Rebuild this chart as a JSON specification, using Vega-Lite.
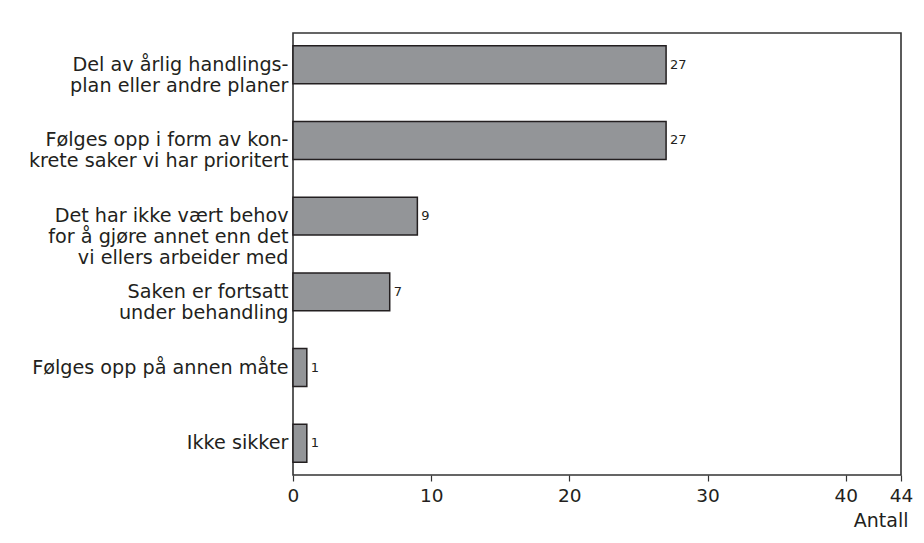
{
  "$schema": "https://vega.github.io/schema/vega-lite/v6.json",
  "autosize": {"type": "none"},
  "width": 608,
  "height": 442,
  "padding": {"left": 293, "top": 33, "right": 23, "bottom": 68},
  "background": "white",
  "data": {
    "values": [
      {"svar": "Del av årlig handlings-|plan eller andre planer", "antall": 27},
      {"svar": "Følges opp i form av kon-|krete saker vi har prioritert", "antall": 27},
      {"svar": "Det har ikke vært behov|for å gjøre annet enn det|vi ellers arbeider med", "antall": 9},
      {"svar": "Saken er fortsatt|under behandling", "antall": 7},
      {"svar": "Følges opp på annen måte", "antall": 1},
      {"svar": "Ikke sikker", "antall": 1}
    ]
  },
  "encoding": {
    "y": {
      "field": "svar",
      "type": "nominal",
      "sort": null,
      "scale": {"paddingInner": 0.5, "paddingOuter": 0.17},
      "axis": {
        "title": null,
        "ticks": false,
        "domain": false,
        "labelExpr": "split(datum.label, '|')",
        "labelFont": "DejaVu Sans",
        "labelFontSize": 19.2,
        "labelLineHeight": 21,
        "labelColor": "#231f20",
        "labelPadding": 5,
        "labelLimit": 300
      }
    },
    "x": {
      "field": "antall",
      "type": "quantitative",
      "scale": {"domain": [0, 44], "nice": false},
      "axis": {
        "title": "Antall",
        "values": [0, 10, 20, 30, 40, 44],
        "grid": false,
        "domain": false,
        "tickColor": "#333333",
        "tickWidth": 1.2,
        "tickSize": 6,
        "labelFont": "DejaVu Sans",
        "labelFontSize": 18.5,
        "labelColor": "#231f20",
        "labelPadding": 5,
        "labelFlush": false,
        "titleFont": "DejaVu Sans",
        "titleFontSize": 19,
        "titleFontWeight": "normal",
        "titleColor": "#231f20",
        "titleAnchor": "end",
        "titleAlign": "right",
        "titleX": 615,
        "titlePadding": 7
      }
    }
  },
  "layer": [
    {
      "mark": {"type": "bar", "fill": "#939598", "stroke": "#231f20", "strokeWidth": 1.5}
    },
    {
      "mark": {"type": "text", "align": "left", "baseline": "middle", "dx": 4, "font": "DejaVu Sans", "fontSize": 13, "color": "#231f20"},
      "encoding": {"text": {"field": "antall", "type": "quantitative"}}
    }
  ],
  "config": {
    "view": {"stroke": "#333333", "strokeWidth": 1.6}
  }
}
